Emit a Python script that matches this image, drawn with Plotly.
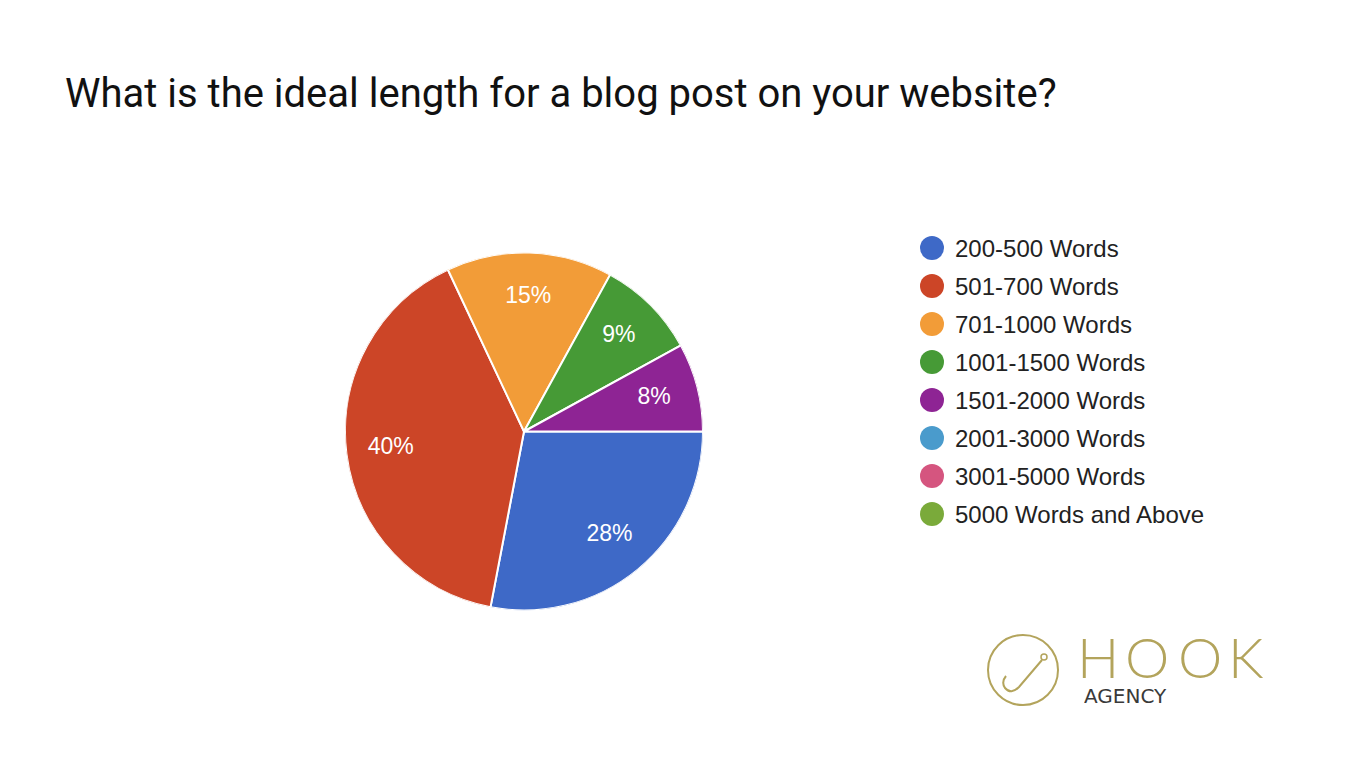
import plotly.graph_objects as go

W, H = 1358, 764

title_text = "What is the ideal length for a blog post on your website?"
categories = ["200-500 Words", "501-700 Words", "701-1000 Words", "1001-1500 Words",
              "1501-2000 Words", "2001-3000 Words", "3001-5000 Words", "5000 Words and Above"]
values = [28, 40, 15, 9, 8, 0, 0, 0]
colors = ["#3e69c7", "#cc4527", "#f29c38", "#469a36", "#8e2494", "#4a9bcc", "#d5557f", "#7aaa3a"]

# pie geometry (pixels)
cx, cy, R = 524, 431.5, 179
pie_domain = dict(x=[(cx - R) / W, (cx + R) / W], y=[1 - (cy + R) / H, 1 - (cy - R) / H])

# slices as polar wedges (theta centre + angular width from the values)
total = sum(values)
mid_theta, widths, slice_colors, slice_labels, pct_text = [], [], [], [], []
acc = 0
for lab, v, c in zip(categories, values, colors):
    if v > 0:
        mid_theta.append((acc + v / 2) / total * 360)
        widths.append(v / total * 360)
        slice_colors.append(c)
        slice_labels.append(lab)
        pct_text.append(f"{round(100 * v / total)}%")
    acc += v

fig = go.Figure()
fig.add_trace(go.Barpolar(
    theta=mid_theta, width=widths, r=[1] * len(mid_theta),
    marker=dict(color=slice_colors, line=dict(color="white", width=2)),
    text=slice_labels, hovertemplate="%{text}<extra></extra>",
    subplot="polar", showlegend=False,
))
fig.add_trace(go.Scatterpolar(
    theta=mid_theta, r=[0.75] * len(mid_theta), mode="text", text=pct_text,
    textfont=dict(family="Liberation Sans, Arial", size=23, color="white"),
    subplot="polar", showlegend=False, hoverinfo="skip",
))

# manual legend on a pixel-scaled helper axis
idx = list(range(len(categories)))
fig.add_trace(go.Scatter(
    x=[932] * len(categories), y=idx, mode="markers",
    marker=dict(size=24, color=colors, line=dict(width=0)),
    xaxis="x", yaxis="y", showlegend=False, hoverinfo="skip",
))
for i, lab in enumerate(categories):
    fig.add_annotation(x=953, y=i, xref="x", yref="y", text=lab, showarrow=False,
                       xanchor="left", yanchor="middle",
                       font=dict(family="Liberation Sans, Arial", size=24, color="#222222"))

y_top, y_bot = 228, 532
fig.update_layout(
    width=W, height=H, margin=dict(l=0, r=0, t=0, b=0),
    paper_bgcolor="white", plot_bgcolor="rgba(0,0,0,0)",
    xaxis=dict(domain=[0, 1], range=[0, W], visible=False, fixedrange=True),
    yaxis=dict(domain=[1 - (y_bot + 1) / H, 1 - (y_top + 1) / H], range=[len(categories) - 0.5, -0.5],
               visible=False, fixedrange=True),
    polar=dict(domain=pie_domain, bgcolor="rgba(0,0,0,0)", bargap=0,
               radialaxis=dict(range=[0, 1], visible=False),
               angularaxis=dict(rotation=0, direction="clockwise", visible=False)),
    showlegend=False,
)

# title
fig.add_annotation(x=63 / W, y=1 - 93 / H, xref="paper", yref="paper", text=title_text,
                   showarrow=False, xanchor="left", yanchor="middle",
                   font=dict(family="Roboto", size=40, color="#111111"))

# logo
gold = "#b3a45c"
fig.add_shape(type="circle", xref="paper", yref="paper",
              x0=(1023 - 35) / W, x1=(1023 + 35) / W, y0=1 - (670 + 35) / H, y1=1 - (670 - 35) / H,
              line=dict(color=gold, width=2))
def px(x, y):
    return f"{x / W:.5f},{1 - y / H:.5f}"
hook = ("M " + px(1042, 660) + " L " + px(1019, 687) + " Q " + px(1011, 695) + " " + px(1005, 688)
        + " Q " + px(1001, 682) + " " + px(1006, 676))
fig.add_shape(type="path", xref="paper", yref="paper", path=hook, line=dict(color=gold, width=2))
fig.add_shape(type="circle", xref="paper", yref="paper",
              x0=(1044 - 3) / W, x1=(1044 + 3) / W, y0=1 - (657 + 3) / H, y1=1 - (657 - 3) / H,
              line=dict(color=gold, width=1.5))
logo_letters = ["H", "O", "O", "K"]
logo_x = [1098, 1147, 1200, 1246]
for ch, lx in zip(logo_letters, logo_x):
    fig.add_annotation(x=lx / W, y=1 - 656 / H, xref="paper", yref="paper", text=ch,
                       showarrow=False, xanchor="center", yanchor="middle", height=46,
                       font=dict(family="Lato, Roboto", size=56, color=gold, weight=300))
fig.add_annotation(x=1082 / W, y=1 - 696 / H, xref="paper", yref="paper", text="AGENCY",
                   showarrow=False, xanchor="left", yanchor="middle", height=18,
                   font=dict(family="DejaVu Sans", size=20, color="#3a3a3a"))

fig.write_html("out.html", config={"displayModeBar": False},
               post_script="document.body.style.margin='0';")
